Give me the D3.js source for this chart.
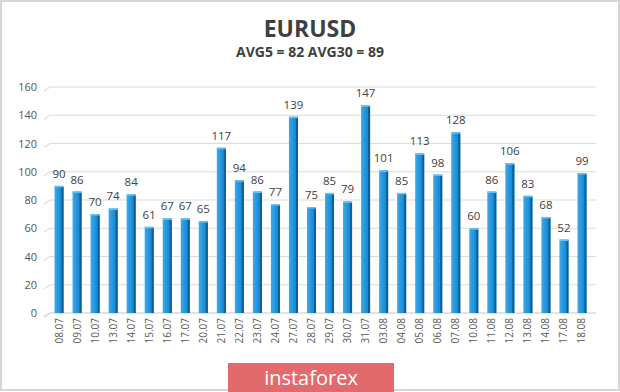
<!DOCTYPE html>
<html><head><meta charset="utf-8">
<script src="https://cdn.jsdelivr.net/npm/d3@7/dist/d3.min.js"></script>
<style>html,body{margin:0;padding:0;background:#fff;}svg{display:block;}</style>
</head><body>
<script>
const dates = ["08.07","09.07","10.07","13.07","14.07","15.07","16.07","17.07","20.07","21.07","22.07","23.07","24.07","27.07","28.07","29.07","30.07","31.07","03.08","04.08","05.08","06.08","07.08","10.08","11.08","12.08","13.08","14.08","17.08","18.08"];
const values = [90,86,70,74,84,61,67,67,65,117,94,86,77,139,75,85,79,147,101,85,113,98,128,60,86,106,83,68,52,99];
const yTicks = [0,20,40,60,80,100,120,140,160];
const title = "EURUSD";
const subtitle = "AVG5 = 82 AVG30 = 89";

const W = 620, H = 392;
const svg = d3.select("body").append("svg").attr("width", W).attr("height", H);
const font = "'Open Sans', 'DejaVu Sans', sans-serif";

const defs = svg.append("defs");
const g1 = defs.append("linearGradient").attr("id","barg").attr("x1","0").attr("x2","1").attr("y1","0").attr("y2","0");
g1.append("stop").attr("offset","0").attr("stop-color","#3fa9e8");
g1.append("stop").attr("offset","0.55").attr("stop-color","#1d92da");
g1.append("stop").attr("offset","1").attr("stop-color","#1580c6");

// frame
svg.append("rect").attr("x",1).attr("y",1).attr("width",W-2).attr("height",H-3)
  .attr("fill","#fff").attr("stroke","#d6d6d6").attr("stroke-width",2);

svg.append("text").attr("x",310).attr("y",37).attr("text-anchor","middle")
  .attr("font-family",font).attr("font-weight","bold").attr("font-size",23).attr("fill","#404040").text(title);
svg.append("text").attr("x",310).attr("y",57).attr("text-anchor","middle")
  .attr("font-family",font).attr("font-weight","bold").attr("font-size",14).attr("fill","#404040").text(subtitle);

const x = d3.scaleBand().domain(dates).range([50, 591]).paddingInner(0.5).paddingOuter(0.25);
const y = d3.scaleLinear().domain([0,160]).range([313, 87]);

// grid
const grid = svg.append("g");
yTicks.forEach(t => {
  const yy = y(t);
  grid.append("path").attr("d", `M44,${yy+4}L50,${yy}L596,${yy}`)
    .attr("fill","none").attr("stroke", t===0 ? "#c8c8c8" : "#dcdcdc").attr("stroke-width",1.2);
});

// y axis labels
const yAxis = d3.axisLeft(y).tickValues(yTicks).tickSize(0).tickPadding(0);
const ya = svg.append("g").attr("transform","translate(37,0)").call(yAxis);
ya.select(".domain").remove();
ya.selectAll("text").attr("font-family",font).attr("font-size",11).attr("fill","#555");

// bars
const bw = x.bandwidth();
const bars = svg.append("g");
dates.forEach((d,i) => {
  const v = values[i];
  const bx = x(d), by = y(v), bh = y(0) - y(v);
  bars.append("rect").attr("x",bx).attr("y",by).attr("width",bw).attr("height",bh).attr("fill","url(#barg)");
  bars.append("rect").attr("x",bx+bw-2).attr("y",by+1).attr("width",2).attr("height",bh-1).attr("fill","#0d5f98");
  bars.append("rect").attr("x",bx).attr("y",by).attr("width",bw).attr("height",1.5).attr("fill","#6cc0ee");
  bars.append("text").attr("x",bx+bw/2).attr("y",by-8).attr("text-anchor","middle")
    .attr("font-family",font).attr("font-size",11.5).attr("fill","#404040").text(v);
});

// x axis labels
const xAxis = d3.axisBottom(x).tickSize(0).tickPadding(0);
const xa = svg.append("g").attr("transform","translate(0,318)").call(xAxis);
xa.select(".domain").remove();
xa.selectAll("text").attr("font-family",font).attr("font-size",10).attr("fill","#5a5a5a")
  .attr("text-anchor","end").attr("dy","0.35em").attr("transform","rotate(-90)").attr("x",0).attr("y",0);

// logo
svg.append("rect").attr("x",228).attr("y",363).attr("width",166).attr("height",29).attr("fill","#e26a6c");
svg.append("text").attr("x",311).attr("y",385).attr("text-anchor","middle")
  .attr("font-family",font).attr("font-size",20).attr("fill","#fff").text("instaforex");
</script>
</body></html>
